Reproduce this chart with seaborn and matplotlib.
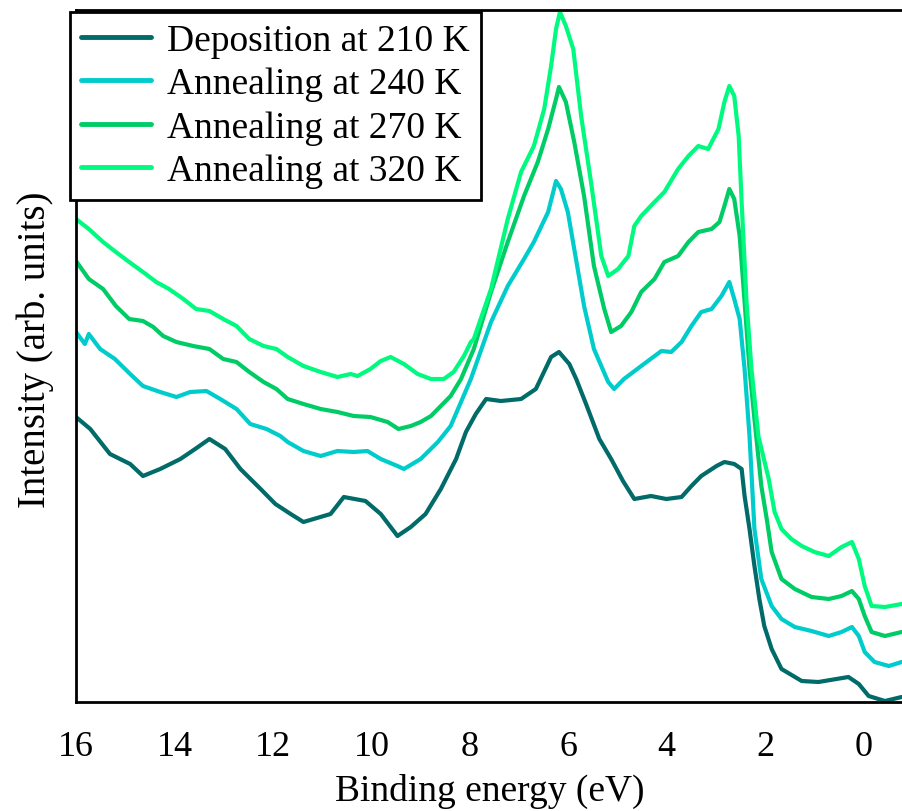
import numpy as np
import pandas as pd
import matplotlib
matplotlib.use("Agg")
import matplotlib.pyplot as plt
import seaborn as sns

# ---------------- data ----------------
labels = ["Deposition at 210 K", "Annealing at 240 K",
          "Annealing at 270 K", "Annealing at 320 K"]
colors = ["#006B68", "#00CCCC", "#00CC66", "#00FA80"]

e_210 = [16.00, 15.71, 15.31, 14.90, 14.64, 14.29, 13.88, 13.58, 13.29, 12.97,
         12.66, 12.25, 11.95, 11.64, 11.38, 10.83, 10.56, 10.12, 9.81, 9.47,
         9.20, 8.90, 8.59, 8.28, 8.08, 7.88, 7.67, 7.37, 6.96, 6.66,
         6.35, 6.19, 5.98, 5.84, 5.64, 5.37, 5.13, 4.89, 4.66, 4.32,
         4.01, 3.70, 3.50, 3.30, 2.99, 2.83, 2.63, 2.48, 2.42, 2.32,
         2.22, 2.12, 2.02, 1.87, 1.67, 1.26, 0.92, 0.31, 0.10, -0.10,
         -0.43, -0.77]
i_210 = [2.85, 2.73, 2.48, 2.38, 2.26, 2.33, 2.43, 2.53, 2.63, 2.53,
         2.33, 2.13, 1.98, 1.88, 1.80, 1.88, 2.05, 2.01, 1.88, 1.66,
         1.75, 1.88, 2.13, 2.43, 2.70, 2.88, 3.03, 3.01, 3.03, 3.13,
         3.45, 3.50, 3.38, 3.23, 2.98, 2.63, 2.43, 2.21, 2.03, 2.06,
         2.03, 2.05, 2.16, 2.26, 2.36, 2.40, 2.38, 2.33, 2.06, 1.73,
         1.36, 1.03, 0.76, 0.53, 0.33, 0.21, 0.20, 0.25, 0.18, 0.06,
         0.01, 0.05]

e_240 = [16.00, 15.82, 15.74, 15.51, 15.21, 14.90, 14.64, 14.29, 13.96, 13.68,
         13.35, 13.07, 12.74, 12.46, 12.13, 11.85, 11.70, 11.38, 11.03, 10.69,
         10.36, 10.08, 9.81, 9.47, 9.34, 9.00, 8.65, 8.39, 8.18, 7.98,
         7.57, 7.23, 6.90, 6.70, 6.41, 6.25, 6.15, 6.01, 5.88, 5.68,
         5.48, 5.19, 5.07, 4.87, 4.52, 4.11, 3.91, 3.70, 3.50, 3.30,
         3.09, 2.89, 2.73, 2.63, 2.52, 2.42, 2.32, 2.22, 2.08, 1.87,
         1.67, 1.40, 1.06, 0.71, 0.45, 0.24, 0.10, -0.02, -0.22, -0.51,
         -0.77]
i_240 = [3.70, 3.58, 3.68, 3.53, 3.43, 3.28, 3.16, 3.10, 3.05, 3.10,
         3.11, 3.03, 2.93, 2.78, 2.73, 2.66, 2.60, 2.51, 2.46, 2.51,
         2.50, 2.51, 2.43, 2.36, 2.33, 2.43, 2.60, 2.76, 3.00, 3.23,
         3.80, 4.16, 4.43, 4.60, 4.90, 5.21, 5.13, 4.90, 4.53, 3.96,
         3.53, 3.20, 3.13, 3.23, 3.36, 3.51, 3.50, 3.60, 3.76, 3.90,
         3.93, 4.06, 4.20, 4.03, 3.83, 3.33, 2.66, 1.73, 1.23, 0.96,
         0.83, 0.75, 0.71, 0.66, 0.70, 0.75, 0.66, 0.50, 0.40, 0.36,
         0.40]

e_270 = [16.00, 15.74, 15.45, 15.19, 14.92, 14.64, 14.43, 14.23, 13.96, 13.62,
         13.29, 13.01, 12.74, 12.48, 12.19, 11.93, 11.70, 11.38, 11.03, 10.69,
         10.36, 10.02, 9.67, 9.45, 9.20, 9.00, 8.79, 8.59, 8.39, 8.18,
         7.92, 7.57, 7.23, 6.90, 6.62, 6.41, 6.25, 6.19, 6.05, 5.88,
         5.68, 5.48, 5.27, 5.13, 4.93, 4.72, 4.52, 4.25, 4.05, 3.77,
         3.56, 3.36, 3.09, 2.93, 2.83, 2.73, 2.63, 2.52, 2.42, 2.32,
         2.22, 2.08, 1.97, 1.87, 1.67, 1.40, 1.06, 0.71, 0.45, 0.24,
         0.10, -0.02, -0.16, -0.43, -0.77]
i_270 = [4.41, 4.23, 4.13, 3.96, 3.83, 3.81, 3.75, 3.66, 3.60, 3.56,
         3.53, 3.43, 3.40, 3.30, 3.20, 3.13, 3.03, 2.98, 2.93, 2.90,
         2.86, 2.85, 2.80, 2.73, 2.76, 2.80, 2.86, 2.96, 3.06, 3.23,
         3.53, 4.10, 4.60, 5.06, 5.40, 5.73, 6.03, 6.15, 6.00, 5.60,
         5.06, 4.36, 3.93, 3.70, 3.76, 3.90, 4.10, 4.23, 4.40, 4.46,
         4.60, 4.70, 4.73, 4.80, 4.96, 5.13, 5.03, 4.66, 4.00, 3.33,
         2.83, 2.16, 1.83, 1.50, 1.23, 1.13, 1.05, 1.03, 1.06, 1.11,
         1.03, 0.86, 0.70, 0.66, 0.70]

e_320 = [16.00, 15.74, 15.45, 15.19, 14.92, 14.64, 14.37, 14.11, 13.82, 13.56,
         13.29, 13.01, 12.74, 12.48, 12.19, 11.93, 11.70, 11.38, 11.03, 10.69,
         10.42, 10.28, 10.02, 9.81, 9.61, 9.34, 9.06, 8.79, 8.53, 8.33,
         8.12, 7.98, 7.92, 7.57, 7.23, 6.96, 6.70, 6.49, 6.35, 6.25,
         6.17, 6.05, 5.90, 5.74, 5.54, 5.33, 5.19, 4.99, 4.78, 4.66,
         4.52, 4.25, 4.05, 3.77, 3.56, 3.36, 3.16, 2.95, 2.83, 2.73,
         2.63, 2.54, 2.48, 2.38, 2.28, 2.14, 1.93, 1.81, 1.67, 1.47,
         1.26, 1.00, 0.71, 0.45, 0.24, 0.10, -0.02, -0.16, -0.43, -0.77]
i_320 = [4.83, 4.73, 4.60, 4.50, 4.40, 4.30, 4.20, 4.13, 4.03, 3.93,
         3.91, 3.83, 3.76, 3.63, 3.56, 3.53, 3.45, 3.36, 3.30, 3.25,
         3.28, 3.26, 3.33, 3.41, 3.45, 3.38, 3.28, 3.23, 3.23, 3.30,
         3.46, 3.60, 3.63, 4.13, 4.83, 5.30, 5.56, 5.93, 6.36, 6.73,
         6.90, 6.76, 6.53, 5.86, 5.20, 4.46, 4.26, 4.33, 4.46, 4.76,
         4.86, 5.00, 5.10, 5.33, 5.46, 5.56, 5.53, 5.73, 6.00, 6.16,
         6.06, 5.66, 5.00, 4.00, 3.33, 2.66, 2.23, 1.90, 1.73, 1.63,
         1.56, 1.50, 1.46, 1.55, 1.60, 1.43, 1.16, 0.96, 0.95, 0.98]

x_ticks = [16, 14, 12, 10, 8, 6, 4, 2, 0]

# ---------------- build long-form table ----------------
frames = []
for lab, e, i in zip(labels, [e_210, e_240, e_270, e_320],
                     [i_210, i_240, i_270, i_320]):
    frames.append(pd.DataFrame({"E": e, "I": i, "series": lab}))
df = pd.concat(frames, ignore_index=True)

# ---------------- style ----------------
sns.set_theme(style="white")
plt.rcParams["font.family"] = ["Liberation Serif", "DejaVu Serif"]
plt.rcParams["text.color"] = "black"
plt.rcParams["axes.labelcolor"] = "black"
plt.rcParams["xtick.color"] = "black"
plt.rcParams["ytick.color"] = "black"

W, H = 902, 812
fig = plt.figure(figsize=(W / 100, H / 100), dpi=100)
ax = fig.add_axes([76 / W, (H - 703) / H, (W - 76) / W + 0.002, (703 - 11) / H])

sns.lineplot(data=df, x="E", y="I", hue="series", hue_order=labels,
             palette=colors, estimator=None, sort=False, linewidth=3.0,
             ax=ax, legend=True)

ax.set_xlim(16, -0.814)
ax.set_ylim(0, 6.92)
ax.set_xticks(x_ticks)
ax.set_xticklabels([str(t) for t in x_ticks])
ax.set_yticks([])
ax.tick_params(axis="x", direction="inout", length=15, width=2,
               labelsize=26, pad=12.5, colors="black", labelcolor="black")
for side in ["left", "bottom", "top"]:
    ax.spines[side].set_visible(True)
    ax.spines[side].set_color("black")
    ax.spines[side].set_linewidth(2.0)
ax.spines["right"].set_visible(False)

ax.set_xlabel("Binding energy (eV)", fontsize=27, labelpad=7, color="black")
ax.set_ylabel("Intensity (arb. units)", fontsize=28, color="black")
ax.yaxis.set_label_coords(-0.026, 0.51)

handles, _ = ax.get_legend_handles_labels()
leg = ax.legend(handles=handles, labels=labels, loc="upper left",
                bbox_to_anchor=(70 / W, 1 - 13 / H),
                bbox_transform=fig.transFigure, borderaxespad=0,
                fontsize=27, frameon=True, fancybox=False, framealpha=1,
                edgecolor="black", handlelength=1.85, handletextpad=0.43,
                labelspacing=0.24, borderpad=0.3)
leg.get_frame().set_linewidth(2.0)
for t in leg.get_texts():
    t.set_color("black")
for ln in leg.get_lines():
    ln.set_linewidth(3.5)

fig.savefig("out.png", dpi=100)
